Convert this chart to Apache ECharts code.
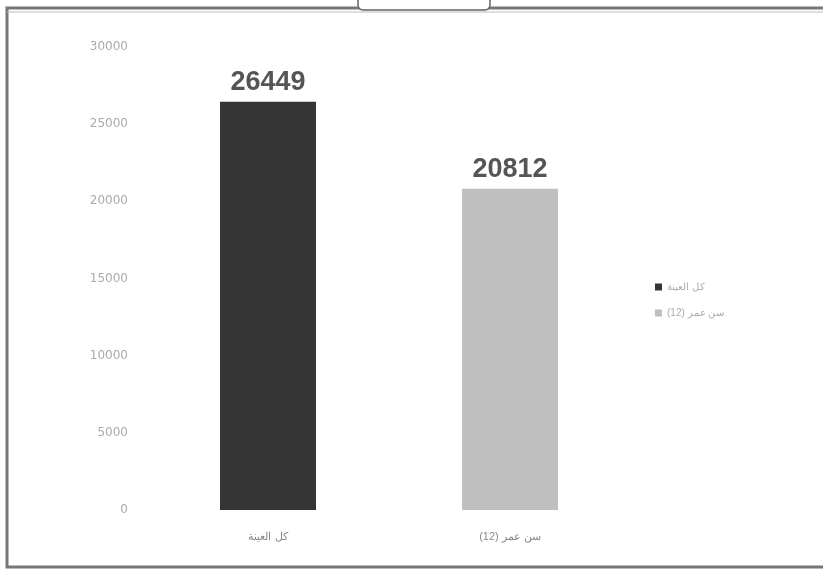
<!DOCTYPE html>
<html>
<head>
<meta charset="utf-8">
<script src="https://cdn.jsdelivr.net/npm/echarts@6/dist/echarts.min.js"></script>
<style>
  html, body { margin: 0; padding: 0; background: #fff; }
  #chart { width: 823px; height: 570px; }
</style>
</head>
<body>
<div id="chart" dir="rtl"></div>
<script>
// Categories (group names) and their totals
const categories = ['كل العينة', 'سن عمر (12)'];
const allSample = [26449, null];
const age12 = [null, 20812];
const yTicks = [0, 5000, 10000, 15000, 20000, 25000, 30000];

const chart = echarts.init(document.getElementById('chart'));

const labelStyle = {
  show: true,
  position: 'top',
  distance: 6,
  fontFamily: 'Liberation Sans, Arial, sans-serif',
  fontSize: 27,
  fontWeight: 'bold',
  color: '#555'
};

chart.setOption({
  backgroundColor: '#fff',
  animation: false,
  grid: { left: 147, right: 192, top: 47, bottom: 60 },
  legend: {
    orient: 'vertical',
    left: 650,
    top: 277,
    itemWidth: 7,
    itemHeight: 7,
    itemGap: 16,
    icon: 'rect',
    textStyle: { color: '#aaa', fontSize: 10, fontFamily: 'Liberation Sans, Arial, sans-serif' },
    data: categories
  },
  xAxis: {
    type: 'category',
    data: categories,
    axisLine: { show: false },
    axisTick: { show: false },
    axisLabel: { color: '#888', fontSize: 11, margin: 21, fontFamily: 'Liberation Sans, Arial, sans-serif' }
  },
  yAxis: {
    type: 'value',
    min: yTicks[0],
    max: yTicks[yTicks.length - 1],
    interval: yTicks[1] - yTicks[0],
    axisLine: { show: false },
    axisTick: { show: false },
    splitLine: { show: false },
    axisLabel: {
      color: '#aaa', fontSize: 12, margin: 19,
      fontFamily: 'DejaVu Sans, sans-serif',
      formatter: v => String(v)
    }
  },
  series: [
    {
      name: categories[0],
      type: 'bar',
      data: allSample,
      barWidth: 96,
      barGap: '-100%',
      itemStyle: { color: '#353535' },
      label: labelStyle
    },
    {
      name: categories[1],
      type: 'bar',
      data: age12,
      barWidth: 96,
      itemStyle: { color: '#bfbfbf' },
      label: labelStyle
    }
  ],
  graphic: [
    // outer frame: top, left and bottom edges
    { type: 'rect', shape: { x: 7, y: 8, width: 830, height: 559 },
      style: { fill: 'none', stroke: '#777', lineWidth: 3 }, silent: true },
    { type: 'line', shape: { x1: 7, y1: 12, x2: 823, y2: 12 },
      style: { stroke: '#bbb', lineWidth: 1 }, silent: true },
    // small tab at the top
    { type: 'rect', shape: { x: 358, y: -8, width: 132, height: 18, r: 5 },
      style: { fill: '#fff', stroke: '#666', lineWidth: 1.5 }, silent: true }
  ]
});
</script>
</body>
</html>
